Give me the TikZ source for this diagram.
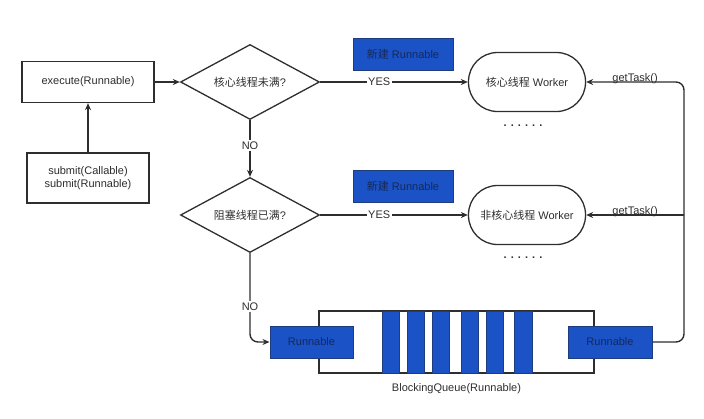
\documentclass[tikz,border=0pt]{standalone}
\usepackage{fontspec}
\setmainfont{Liberation Sans}
\newfontfamily\cjk{Noto Sans CJK SC}
\usetikzlibrary{arrows.meta,shapes.geometric,positioning}

\definecolor{taskblue}{HTML}{1B52C6}
\definecolor{taskedge}{HTML}{1E3C7E}
\definecolor{tasktext}{HTML}{16295A}
\definecolor{linegray}{HTML}{2E2E2E}

\tikzset{
  flow/.style={draw=linegray, line width=1.4pt, -{Stealth[length=7pt,width=6pt]}},
  callbox/.style={draw=linegray, line width=1.3pt, fill=white, minimum width=132pt, minimum height=41pt, align=center},
  check/.style={draw=linegray, line width=1.3pt, diamond, aspect=1.85, minimum width=139pt, minimum height=75pt, inner sep=0pt},
  worker/.style={draw=linegray, line width=1.3pt, rounded corners=29pt, minimum width=117pt, minimum height=59pt},
  task/.style={draw=taskedge, line width=1pt, fill=taskblue, text=tasktext, minimum width=100pt, minimum height=32pt},
  qbar/.style={draw=taskedge, line width=0.8pt, fill=taskblue},
  lbl/.style={fill=white, inner sep=1.5pt, text=linegray}
}

\begin{document}
\begin{tikzpicture}[x=1pt, y=-1pt, every node/.style={font=\fontsize{11}{13}\selectfont, text=linegray}]
  \useasboundingbox (0,0) rectangle (704,418);

  % entry points
  \node[callbox] (exec) at (88,82) {execute(Runnable)};
  \node[callbox, minimum width=122pt, minimum height=50pt, inner sep=1pt] (submit) at (88,178)
    {submit(Callable)\\submit(Runnable)};

  % decisions
  \node[check] (core) at (250,82) {{\cjk 核心线程未满}?};
  \node[check] (block) at (250,215) {{\cjk 阻塞线程已满}?};

  % new tasks
  \node[task] (new1) at (403,54) {{\cjk 新建} Runnable};
  \node[task] (new2) at (403,186) {{\cjk 新建} Runnable};

  % workers
  \node[worker] (w1) at (527,82) {{\cjk 核心线程} Worker};
  \node[worker] (w2) at (527,215) {{\cjk 非核心线程} Worker};
  \node (more1) at (523,126) {\textbf{. . . . . .}};
  \node (more2) at (523,258) {\textbf{. . . . . .}};

  % blocking queue
  \node[draw=linegray, line width=1.3pt, minimum width=275pt, minimum height=62pt, inner sep=0pt] (queue) at (456.5,342) {};
  \foreach \x/\w in {382/17,407/17,432/17,461/17,486/17,514/18} {
    \fill[qbar] (\x,311) rectangle ++(\w,62);
  }
  \node[task, minimum width=83pt] (qin) at (311.5,342) {Runnable};
  \node[task, minimum width=84pt] (qout) at (610,342) {Runnable};
  \node[below=6pt of queue] (qname) {BlockingQueue(Runnable)};

  % rail back to the workers
  \coordinate (rtop) at (684,82);
  \coordinate (rmid) at (684,215);

  % connectors
  \draw[flow] (submit) -- (exec);
  \draw[flow] (exec) -- (core);
  \draw[flow] (core) -- node[lbl, pos=0.45] {NO} (block);
  \draw[flow] (core.east) -- node[lbl, pos=0.4] {YES} (w1.west);
  \draw[flow] (block.east) -- node[lbl, pos=0.4] {YES} (w2.west);
  \draw[flow, rounded corners=8pt] (block.south) |- node[lbl, pos=0.3] {NO} (qin.west);
  \draw[flow, rounded corners=8pt] (qout.east) -| (rtop) -- node[anchor=base, inner sep=0pt, yshift=1pt] {getTask()} (w1.east);
  \draw[flow] (rmid) -- node[anchor=base, inner sep=0pt, yshift=1pt] {getTask()} (w2.east);
\end{tikzpicture}
\end{document}
